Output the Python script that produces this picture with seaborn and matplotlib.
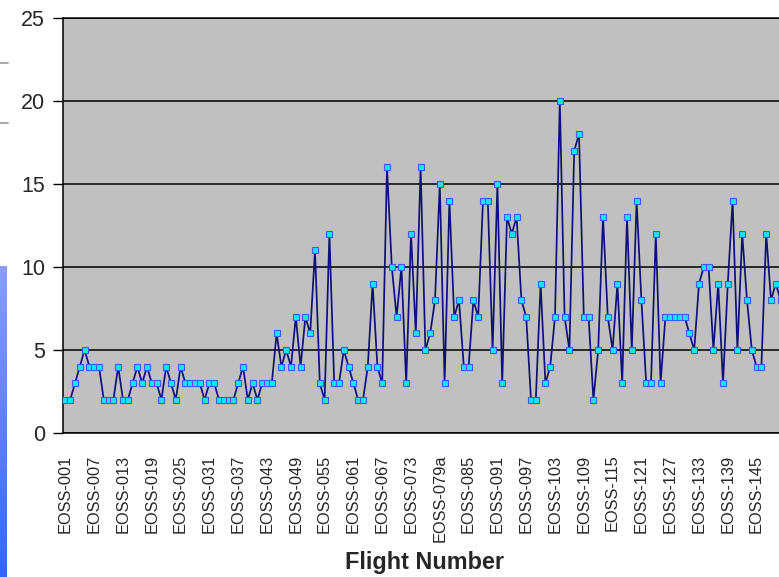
import numpy as np
import pandas as pd
import matplotlib
matplotlib.use("Agg")
import matplotlib.pyplot as plt
from matplotlib.lines import Line2D
import seaborn as sns

# Flight identifiers (flight 079 was flown as 079a)
flights = ([f"EOSS-{n:03d}" for n in range(1, 79)] + ["EOSS-079a"]
           + [f"EOSS-{n:03d}" for n in range(80, 151)])

# Value recorded for each flight, in flight order
values = [
    2, 2, 3, 4, 5, 4, 4, 4, 2, 2, 2, 4, 2, 2, 3, 4, 3, 4, 3, 3,
    2, 4, 3, 2, 4, 3, 3, 3, 3, 2, 3, 3, 2, 2, 2, 2, 3, 4, 2, 3,
    2, 3, 3, 3, 6, 4, 5, 4, 7, 4, 7, 6, 11, 3, 2, 12, 3, 3, 5, 4,
    3, 2, 2, 4, 9, 4, 3, 16, 10, 7, 10, 3, 12, 6, 16, 5, 6, 8, 15, 3,
    14, 7, 8, 4, 4, 8, 7, 14, 14, 5, 15, 3, 13, 12, 13, 8, 7, 2, 2, 9,
    3, 4, 7, 20, 7, 5, 17, 18, 7, 7, 2, 5, 13, 7, 5, 9, 3, 13, 5, 14,
    8, 3, 3, 12, 3, 7, 7, 7, 7, 7, 6, 5, 9, 10, 10, 5, 9, 3, 9, 14,
    5, 12, 8, 5, 4, 4, 12, 8, 9, 8,
]

y_ticks = [0, 5, 10, 15, 20, 25]
label_every = 6
n_categories = 151

df = pd.DataFrame({"pos": np.arange(len(values)), "flight": flights[:len(values)],
                   "value": values})

sns.set_style("white")
plt.rcParams["font.family"] = ["Liberation Sans", "DejaVu Sans"]

W, H = 779, 577
fig = plt.figure(figsize=(W / 100, H / 100), dpi=100)
fig.patch.set_facecolor("white")

step = 4.8
ax = fig.add_axes([63 / W, (H - 433) / H, step * n_categories / W, 415 / H])
ax.set_facecolor("#C0C0C0")

sns.lineplot(data=df, x="pos", y="value", ax=ax, color="#10107A", lw=1.25,
             marker="s", markersize=4.4, markerfacecolor="#12E6FF",
             markeredgecolor="#3A5CF5", markeredgewidth=0.8, zorder=3)

ax.set_xlim(-0.5, n_categories - 0.5)
ax.set_ylim(0, 25)

# horizontal grid
ax.set_yticks(y_ticks)
ax.yaxis.grid(True, color="black", lw=1.1)
ax.xaxis.grid(False)
ax.set_axisbelow(True)

# category ticks: one per flight, labelled every sixth flight
ax.set_xticks(df["pos"][::label_every], labels=df["flight"][::label_every],
              rotation=90)
ax.set_xticks(df["pos"], minor=True)
ax.tick_params(axis="x", which="both", direction="out", length=3.5, width=0.8,
               color="black")
ax.tick_params(axis="x", which="major", labelsize=11.8, pad=12)
ax.tick_params(axis="y", direction="out", length=7, width=1, color="black",
               labelsize=15.5, pad=6, left=True)

for side in ("left", "bottom", "top"):
    ax.spines[side].set_visible(True)
    ax.spines[side].set_color("black")
    ax.spines[side].set_linewidth(1.1)
ax.spines["right"].set_visible(False)

ax.set_ylabel("")
ax.set_xlabel("Flight Number", fontsize=16.8, fontweight="bold")
ax.xaxis.set_label_coords((424 - 63) / (step * n_categories), (433 - 562) / 415)
ax.xaxis.label.set_va("center")

# blue strip along the left edge
strip = fig.add_axes([0, 0, 7 / W, (H - 266) / H])
grad = np.linspace(0, 1, 256).reshape(-1, 1)
cmap = matplotlib.colors.LinearSegmentedColormap.from_list(
    "strip", ["#8B9CFF", "#3366FF"])
strip.imshow(grad, aspect="auto", cmap=cmap, extent=[0, 1, 0, 1], origin="upper")
strip.set_axis_off()

# short grey marks at the upper-left edge
for yp in (63, 123):
    fig.add_artist(Line2D([0, 8 / W], [1 - yp / H, 1 - yp / H],
                          color="#9A9A9A", lw=1.2))

fig.savefig("out.png", dpi=100)
